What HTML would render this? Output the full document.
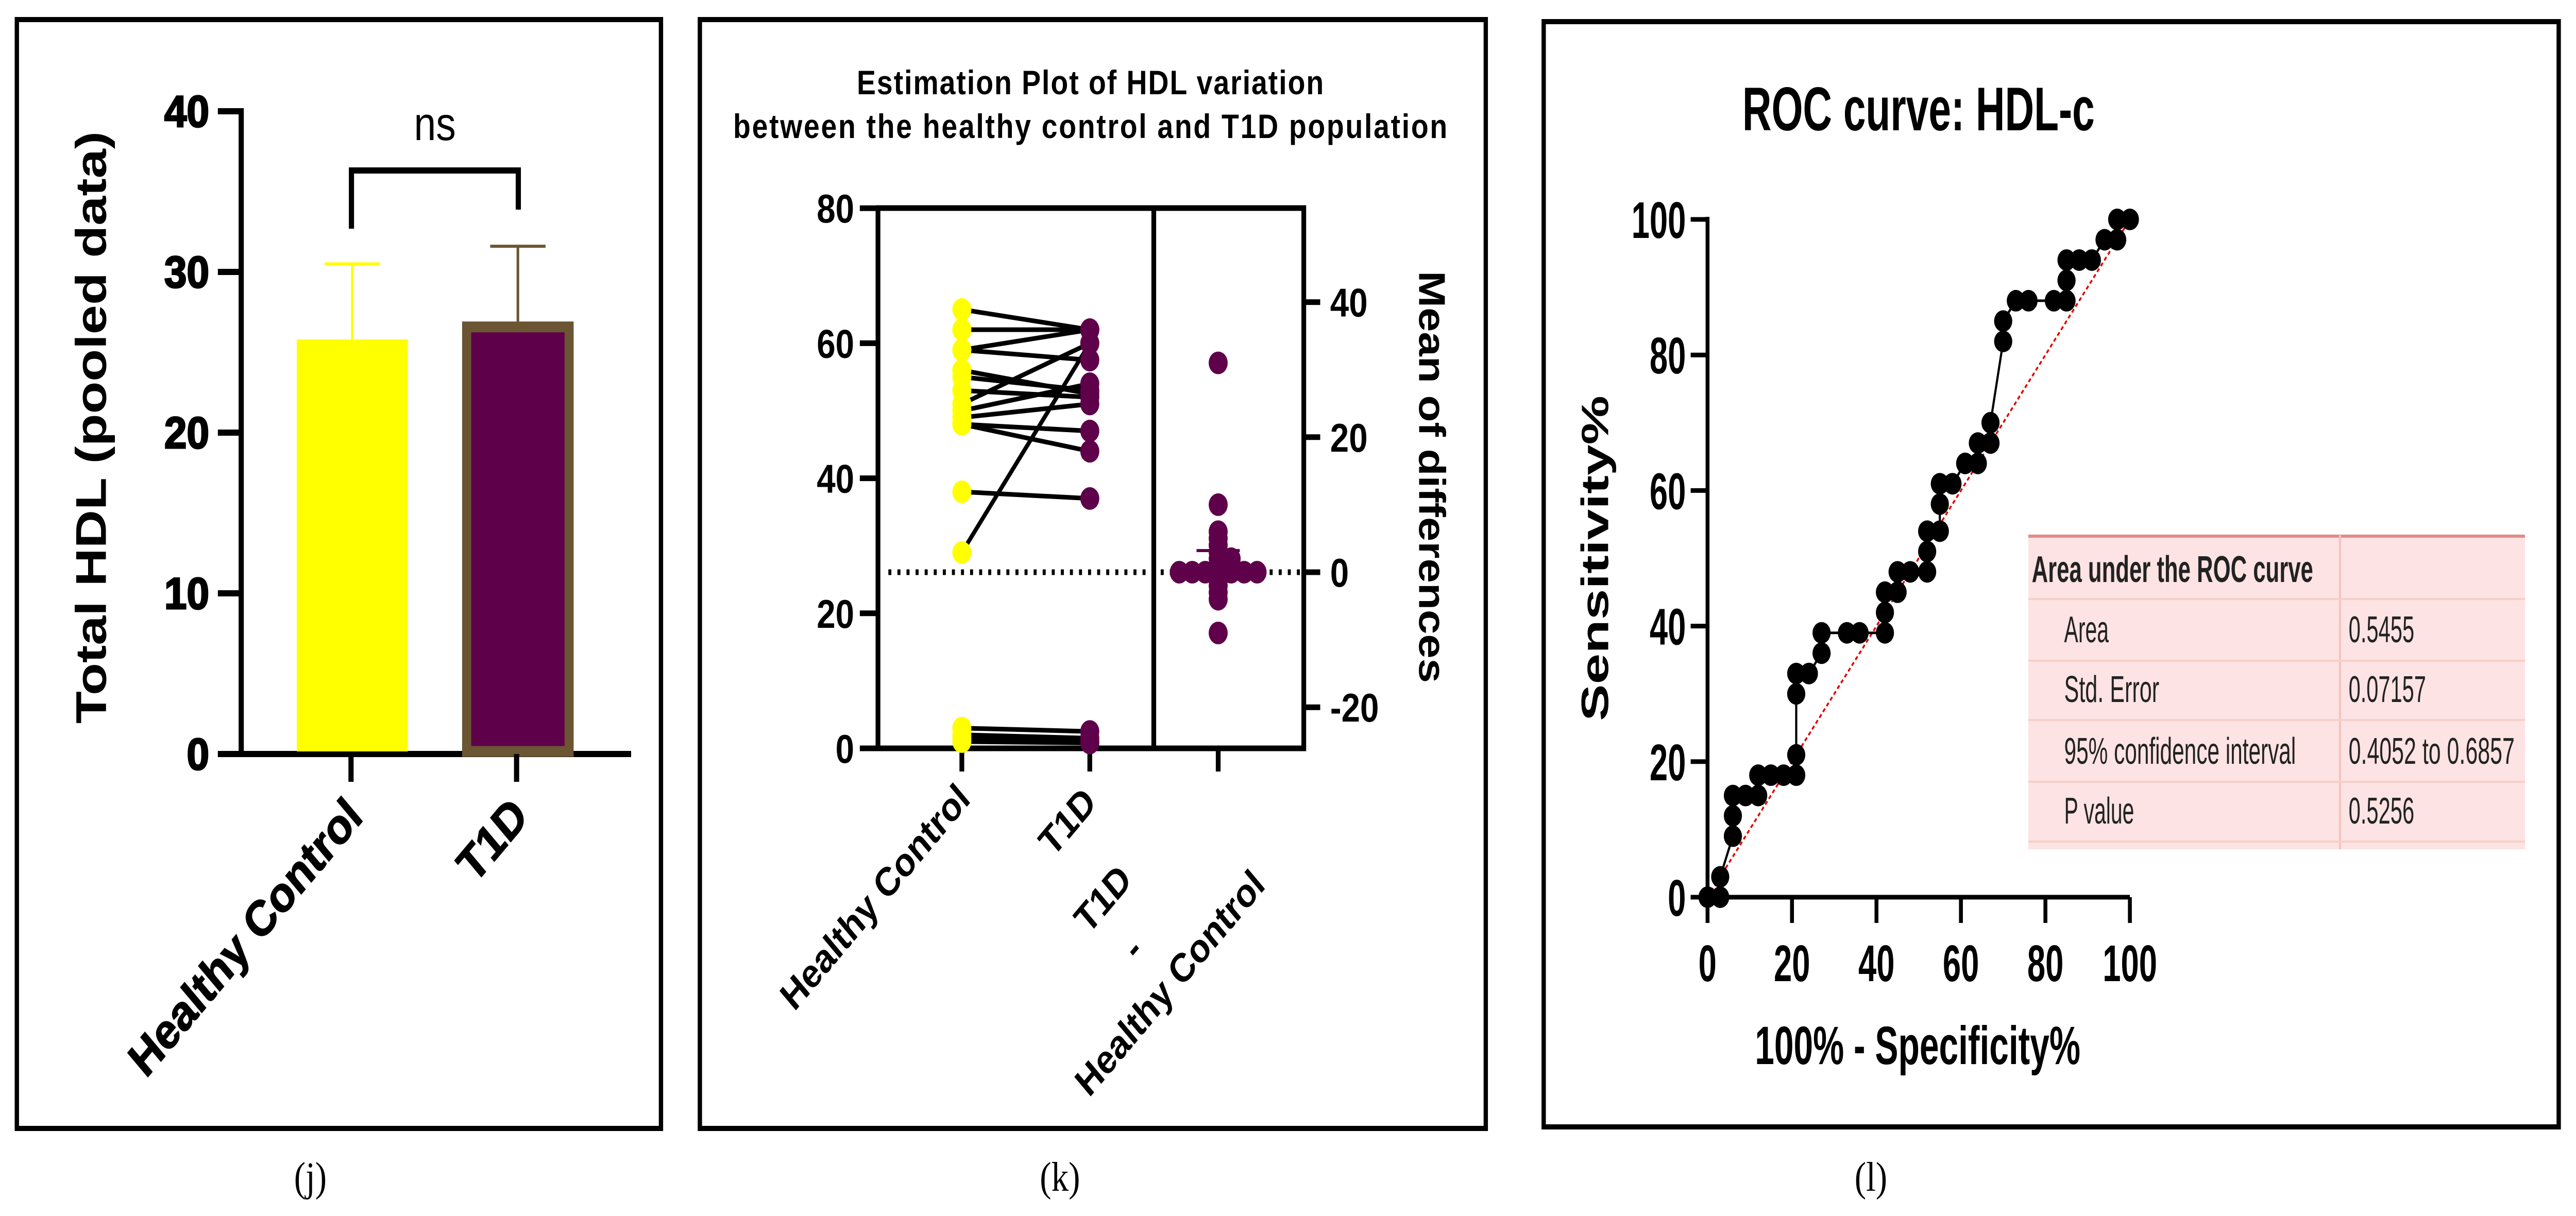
<!DOCTYPE html>
<html><head><meta charset="utf-8">
<style>
html,body{margin:0;padding:0;background:#fff;overflow:hidden;width:100vw;height:100vh;}
svg{display:block;width:100vw;height:100vh;}
.b{font-family:"Liberation Sans",Arial,sans-serif;font-weight:bold;}
.n{font-family:"Liberation Sans Narrow","Liberation Sans",Arial,sans-serif;font-weight:bold;}
.s{font-family:"Liberation Serif","Times New Roman",serif;}
</style></head>
<body>
<svg id="fig" viewBox="0 0 5959 2361" preserveAspectRatio="none" xmlns="http://www.w3.org/2000/svg">
<rect width="5959" height="2361" fill="#fff"/>
<rect x="39" y="38" width="1490" height="2153" fill="none" stroke="#000" stroke-width="10"/>
<rect x="1619" y="38" width="1818" height="2153" fill="none" stroke="#000" stroke-width="10"/>
<rect x="3571" y="42" width="2348" height="2146" fill="none" stroke="#000" stroke-width="10"/>
<text class="s" x="718" y="2312" font-size="80" text-anchor="middle">(j)</text>
<text class="s" x="2452" y="2312" font-size="80" text-anchor="middle">(k)</text>
<text class="s" x="4328" y="2312" font-size="80" text-anchor="middle">(l)</text>

<g id="pj"></g>
<g id="pk"></g>
<g id="pl"></g>
</svg>
<script>
// ---------- Panel j data ----------
const jCategories = ["Healthy Control", "T1D"];
const jMeans = [25.8, 26.9];
const jErrTop = [30.5, 31.6];
const jTicks = [0, 10, 20, 30, 40];

// ---------- Panel k data ----------
const kCategories = ["Healthy Control", "T1D"];
const kHC = [65, 62, 59, 59, 56, 55, 53, 51, 50, 49, 48, 48, 38, 29, 3, 2, 1.5, 1];
const kT1D = [62, 62, 57.5, 62, 52.5, 53, 52, 60, 54, 51, 47, 44, 37, 60, 2.5, 1.5, 1, 0.8];
const kDiffs = [31, 10, 6, 5, 4, 3, 2, 2, 1, 1, 0, 0, 0, 0, 0, 0, 0, -1, -2, -3, -4, -9];
const kMeanDiff = 3.2;
const kLeftTicks = [0, 20, 40, 60, 80];
const kRightTicks = [-20, 0, 20, 40];

// ---------- Panel l data ----------
const rocX = [0,3,3,6,6,6,9,12,12,15,18,21,21,21,21,24,27,27,33,36,42,42,42,45,45,48,52,52,52,55,55,55,58,61,64,64,67,67,70,70,73,76,82,85,85,85,88,91,94,97,97,100];
const rocY = [0,0,3,9,12,15,15,15,18,18,18,18,21,30,33,33,36,39,39,39,39,42,45,45,48,48,48,51,54,54,58,61,61,64,64,67,67,70,82,85,88,88,88,88,91,94,94,94,97,97,100,100];
const rocTicks = [0, 20, 40, 60, 80, 100];
const aucLabels = ["Area", "Std. Error", "95% confidence interval", "P value"];
const aucValues = ["0.5455", "0.07157", "0.4052 to 0.6857", "0.5256"];

const NS = "http://www.w3.org/2000/svg";
function mk(parent, tag, attrs, text) {
  const e = document.createElementNS(NS, tag);
  for (const k in attrs) e.setAttribute(k, attrs[k]);
  if (text !== undefined) e.textContent = text;
  parent.appendChild(e);
  return e;
}

// ===== Panel j =====
(function () {
  const g = document.getElementById('pj');
  const y = v => 1464 - v * 31.2;
  const cx = [815, 1198];
  const barW = 257;
  let e = mk(g, 'line', {x1: 558, y1: 210, x2: 558, y2: 1469, stroke: '#000', 'stroke-width': 12});
   
  e = mk(g, 'line', {x1: 504, y1: 1464, x2: 1460, y2: 1464, stroke: '#000', 'stroke-width': 12});
   
  jTicks.forEach(t => {
    const tl = mk(g, 'line', {x1: 504, y1: y(t), x2: 558, y2: y(t), stroke: '#000', 'stroke-width': 12});
     
    const s = String(t);
    const tx = mk(g, 'text', {x: 484, y: y(t) + 30, 'font-size': 86, 'text-anchor': 'end', class: 'b', 'stroke': '#000', 'stroke-width': 3, textLength: s.length * 52, lengthAdjust: 'spacingAndGlyphs'}, s);
     
  });
  jMeans.forEach((m, i) => {
    const x0 = cx[i] - barW / 2;
    const col = i === 0 ? '#ffff00' : '#6b5533';
    const el = mk(g, 'line', {x1: cx[i], y1: y(m), x2: cx[i], y2: y(jErrTop[i]), stroke: col, 'stroke-width': 6});
     
    const ec = mk(g, 'line', {x1: cx[i] - 64, y1: y(jErrTop[i]), x2: cx[i] + 64, y2: y(jErrTop[i]), stroke: col, 'stroke-width': 6});
     
    let r;
    if (i === 0) {
      r = mk(g, 'rect', {x: x0, y: y(m), width: barW, height: 1459 - y(m), fill: '#ffff00'});
    } else {
      r = mk(g, 'rect', {x: x0 + 10, y: y(m) + 10, width: barW - 20, height: 1459 - y(m) - 10, fill: '#5f004a', stroke: '#6b5533', 'stroke-width': 21});
    }
     
    const tk = mk(g, 'line', {x1: cx[i] - 3, y1: 1464, x2: cx[i] - 3, y2: 1518, stroke: '#000', 'stroke-width': 12});
     
    const lx = cx[i] + 28, ly = 1590;
    const lab = mk(g, 'text', {x: lx, y: ly, 'font-size': 96, 'text-anchor': 'end', class: 'b', stroke: '#000', 'stroke-width': 2, transform: `rotate(-45 ${lx} ${ly})`}, jCategories[i]);
     
  });
  const br = mk(g, 'path', {d: 'M813 444 V331 H1199 V407', fill: 'none', stroke: '#000', 'stroke-width': 12});
   
  const ns = mk(g, 'text', {x: 1006, y: 272, 'font-size': 92, 'text-anchor': 'middle', style: 'font-family:"Liberation Sans",Arial,sans-serif'}, 'ns');
   
  const yt = mk(g, 'text', {x: 0, y: 0, 'font-size': 100, 'text-anchor': 'middle', class: 'b', transform: 'translate(245 830) rotate(-90)', textLength: 1150, lengthAdjust: 'spacingAndGlyphs'}, 'Total HDL (pooled data)');
   
})();

// ===== Panel k =====
(function () {
  const g = document.getElementById('pk');
  const yL = v => 1453 - v * 13.11;
  const yR = v => 1111 - v * 13.11;
  const cx = [2225, 2521, 2818];
  const t1 = mk(g, 'text', {x: 2522, y: 183, 'font-size': 66, 'text-anchor': 'middle', class: 'b', textLength: 1080, lengthAdjust: 'spacing'}, 'Estimation Plot of HDL variation');
   
  const t2 = mk(g, 'text', {x: 2522, y: 268, 'font-size': 66, 'text-anchor': 'middle', class: 'b', textLength: 1652, lengthAdjust: 'spacing'}, 'between the healthy control and T1D population');
   
  let e = mk(g, 'rect', {x: 2031, y: 404, width: 985, height: 1049, fill: 'none', stroke: '#000', 'stroke-width': 11});
   
  e = mk(g, 'line', {x1: 2669, y1: 404, x2: 2669, y2: 1453, stroke: '#000', 'stroke-width': 11});
   
  kLeftTicks.forEach(t => {
    const l = mk(g, 'line', {x1: 1989, y1: yL(t), x2: 2031, y2: yL(t), stroke: '#000', 'stroke-width': 11});
     
    const tx = mk(g, 'text', {x: 1976, y: yL(t) + 28, 'font-size': 78, 'text-anchor': 'end', class: 'b'}, String(t));
     
  });
  kRightTicks.forEach(t => {
    const l = mk(g, 'line', {x1: 3016, y1: yR(t), x2: 3054, y2: yR(t), stroke: '#000', 'stroke-width': 11});
     
    const tx = mk(g, 'text', {x: 3077, y: yR(t) + 28, 'font-size': 78, class: 'b'}, String(t));
     
  });
  const rt = mk(g, 'text', {x: 0, y: 0, 'font-size': 86, 'text-anchor': 'middle', class: 'b', transform: 'translate(3283 926) rotate(90)', textLength: 800, lengthAdjust: 'spacingAndGlyphs'}, 'Mean of differences');
   
  const dl = mk(g, 'line', {x1: 2055, y1: yR(0), x2: 3016, y2: yR(0), stroke: '#000', 'stroke-width': 11, 'stroke-dasharray': '7 14'});
   
  cx.forEach(x => {
    const l = mk(g, 'line', {x1: x, y1: 1453, x2: x, y2: 1498, stroke: '#000', 'stroke-width': 11});
     
  });
  kHC.forEach((v, i) => {
    const l = mk(g, 'line', {x1: cx[0], y1: yL(v), x2: cx[1], y2: yL(kT1D[i]), stroke: '#000', 'stroke-width': 9});
     
  });
  kHC.forEach(v => {
    const c = mk(g, 'circle', {cx: cx[0], cy: yL(v), r: 22, fill: '#ffff00'});
     
  });
  kT1D.forEach(v => {
    const c = mk(g, 'circle', {cx: cx[1], cy: yL(v), r: 22, fill: '#5f004a'});
     
  });
  const seen = {};
  kDiffs.forEach(v => {
    const k = Math.round(v);
    const n = seen[k] || 0; seen[k] = n + 1;
    const off = n === 0 ? 0 : (n % 2 ? 1 : -1) * Math.ceil(n / 2) * 30;
    const c = mk(g, 'circle', {cx: cx[2] + off, cy: yR(v), r: 22, fill: '#5f004a'});
     
  });
  const mb = mk(g, 'line', {x1: cx[2] - 50, y1: yR(kMeanDiff), x2: cx[2] + 50, y2: yR(kMeanDiff), stroke: '#5f004a', 'stroke-width': 6});
   
  const labs = [[kCategories[0], 2248, 1555], [kCategories[1], 2540, 1562]];
  labs.forEach(a => {
    const t = mk(g, 'text', {x: a[1], y: a[2], 'font-size': 78, 'text-anchor': 'end', class: 'b', transform: `rotate(-45 ${a[1]} ${a[2]})`}, a[0]);
     
  });
  const dlabs = [['T1D', 2622, 1712], ['-', 2648, 1850], ['Healthy Control', 2930, 1722]];
  dlabs.forEach(a => {
    const t = mk(g, 'text', {x: a[1], y: a[2], 'font-size': 78, 'text-anchor': 'end', class: 'b', transform: `rotate(-45 ${a[1]} ${a[2]})`}, a[0]);
     
  });
})();

// ===== Panel l =====
(function () {
  const g = document.getElementById('pl');
  const X = v => 3950 + v * 9.77;
  const Y = v => 1742 - v * 13.16;
  const tt = mk(g, 'text', {x: 4438, y: 253, 'font-size': 120, 'text-anchor': 'middle', class: 'n', textLength: 815, lengthAdjust: 'spacingAndGlyphs'}, 'ROC curve: HDL-c');
   
  let e = mk(g, 'line', {x1: 3950, y1: 421, x2: 3950, y2: 1747, stroke: '#000', 'stroke-width': 9});
   
  e = mk(g, 'line', {x1: 3911, y1: 1742, x2: 4927, y2: 1742, stroke: '#000', 'stroke-width': 9});
   
  rocTicks.forEach(t => {
    const l = mk(g, 'line', {x1: 3911, y1: Y(t), x2: 3950, y2: Y(t), stroke: '#000', 'stroke-width': 9});
     
    const s = String(t);
    const tx = mk(g, 'text', {x: 3900, y: Y(t) + 36, 'font-size': 100, 'text-anchor': 'end', class: 'n', textLength: s.length * 42, lengthAdjust: 'spacingAndGlyphs'}, s);
     
    const lx = mk(g, 'line', {x1: X(t), y1: 1742, x2: X(t), y2: 1792, stroke: '#000', 'stroke-width': 9});
     
    const ty = mk(g, 'text', {x: X(t), y: 1905, 'font-size': 100, 'text-anchor': 'middle', class: 'n', textLength: s.length * 42, lengthAdjust: 'spacingAndGlyphs'}, s);
     
  });
  const xt = mk(g, 'text', {x: 4436, y: 2066, 'font-size': 105, 'text-anchor': 'middle', class: 'n', textLength: 753, lengthAdjust: 'spacingAndGlyphs'}, '100% - Specificity%');
   
  const yt = mk(g, 'text', {x: 0, y: 0, 'font-size': 88, 'text-anchor': 'middle', class: 'b', transform: 'translate(3720 1084) rotate(-90)', textLength: 632, lengthAdjust: 'spacingAndGlyphs'}, 'Sensitivity%');
   
  const dg = mk(g, 'line', {x1: X(0), y1: Y(0), x2: X(100), y2: Y(100), stroke: '#e00000', 'stroke-width': 4, 'stroke-dasharray': '8 6'});
   
  const pts = rocX.map((v, i) => X(v) + ',' + Y(rocY[i])).join(' ');
  const pl = mk(g, 'polyline', {points: pts, fill: 'none', stroke: '#000', 'stroke-width': 5});
   
  rocX.forEach((v, i) => {
    const c = mk(g, 'circle', {cx: X(v), cy: Y(rocY[i]), r: 21, fill: '#000'});
     
  });
  const tb = mk(g, 'g', {});
   
  mk(tb, 'rect', {x: 4692, y: 1039, width: 1149, height: 610, fill: '#fde3e3'});
  mk(tb, 'line', {x1: 4692, y1: 1041, x2: 5841, y2: 1041, stroke: '#e48a8a', 'stroke-width': 6});
  mk(tb, 'line', {x1: 5413, y1: 1039, x2: 5413, y2: 1649, stroke: '#f3c4c0', 'stroke-width': 5});
  [1163, 1283, 1398, 1518, 1634].forEach(yy => mk(tb, 'line', {x1: 4692, y1: yy, x2: 5841, y2: yy, stroke: '#f6cfc8', 'stroke-width': 4}));
  const hd = mk(tb, 'text', {x: 4700, y: 1130, 'font-size': 72, class: 'n', textLength: 651, lengthAdjust: 'spacingAndGlyphs', fill: '#222'}, 'Area under the ROC curve');
   
  const baseY = [1247, 1363, 1483, 1599];
  const lw = [103, 220, 536, 162];
  const vw = [152, 179, 384, 152];
  aucLabels.forEach((s, i) => {
    const t = mk(tb, 'text', {x: 4775, y: baseY[i], 'font-size': 72, style: 'font-family:"Liberation Sans Narrow","Liberation Sans",sans-serif', textLength: lw[i], lengthAdjust: 'spacingAndGlyphs', fill: '#222'}, s);
     
    const v = mk(tb, 'text', {x: 5433, y: baseY[i], 'font-size': 72, style: 'font-family:"Liberation Sans Narrow","Liberation Sans",sans-serif', textLength: vw[i], lengthAdjust: 'spacingAndGlyphs', fill: '#222'}, aucValues[i]);
     
  });
})();
</script>
</body></html>
